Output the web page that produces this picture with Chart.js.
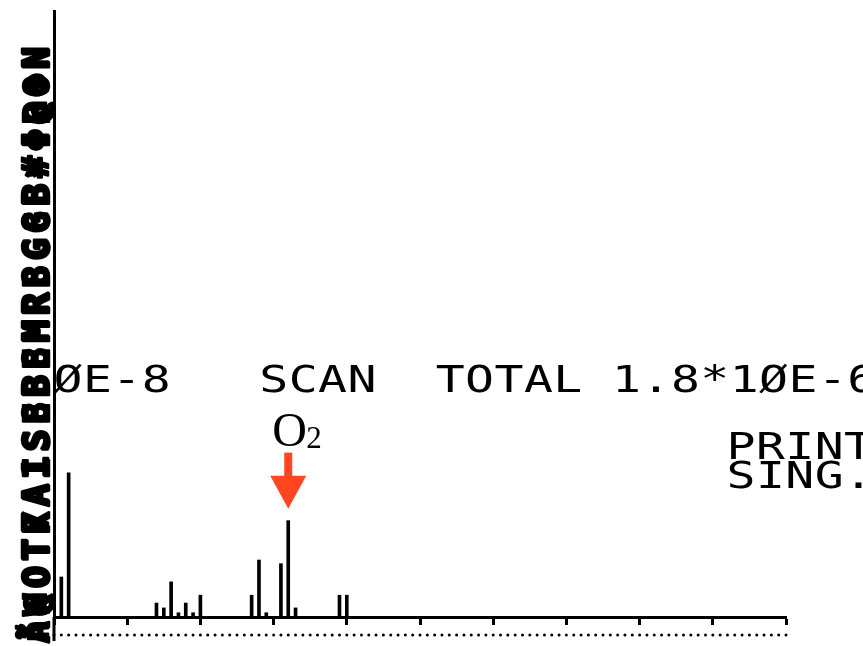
<!DOCTYPE html>
<html>
<head>
<meta charset="utf-8">
<script src="https://cdn.jsdelivr.net/npm/chart.js@4/dist/chart.umd.min.js"></script>
<style>
  html, body { margin: 0; padding: 0; background: #fff; }
  #wrap { width: 863px; height: 646px; position: relative; }
</style>
</head>
<body>
<div id="wrap"><canvas id="grafico"></canvas></div>
<script>
// mass numbers (amu) and peak heights (% of full scale)
const massas = [1, 2, 14, 15, 16, 17, 18, 19, 20, 27, 28, 29, 31, 32, 33, 39, 40];
const intensidades = [6.6, 23.8, 2.3, 1.5, 5.8, 0.7, 2.3, 0.7, 3.6, 3.6, 9.4, 0.7, 8.8, 15.9, 1.5, 3.6, 3.6];
const massaMin = 0;
const massaMax = 100;
const passoTick = 10;
const escalaMax = 100;

const linhaTopo = 'ØE-8   SCAN  TOTAL 1.8*1ØE-6';
const linhasStatus = ['PRINT', 'SING.'];
const rotuloPico = { massa: 32, texto: 'O', sub: '2' };
const faixaEsquerdaA = 'ÃWOTKAISEBEMRBGGB*ΦBΘN';
const faixaEsquerdaB = 'ñ@OT7A1S8B8MR8G8B#Φ@⊕N';

document.addEventListener('DOMContentLoaded', function() {
    const ctx = document.getElementById('grafico').getContext('2d');

    // monospaced printer text, one glyph per column
    function textoMatricial(c, texto, esquerda, base, passo) {
        for (let i = 0; i < texto.length; i++) {
            c.save();
            c.translate(esquerda + i * passo + 12, base);
            c.scale(1.3, 1);
            c.fillText(texto[i], 0, 0);
            c.restore();
        }
    }

    const extras = {
        id: 'extras',
        afterDatasetsDraw(chart) {
            const c = chart.ctx;
            const xs = chart.scales.x;
            const ys = chart.scales.y;
            const base = ys.getPixelForValue(0);
            const esq = xs.getPixelForValue(massaMin);
            c.save();

            // axis extension below baseline
            c.fillStyle = '#000';
            c.fillRect(esq - 1.5, base, 3, 24);

            // dotted row under the ticks, one dot per mass unit
            for (let m = massaMin; m <= massaMax; m++) {
                c.beginPath();
                c.arc(xs.getPixelForValue(m), base + 18, 1.5, 0, Math.PI * 2);
                c.fill();
            }

            // printed header and status text
            c.font = '37px "DejaVu Sans Mono"';
            c.textAlign = 'center';
            c.textBaseline = 'alphabetic';
            textoMatricial(c, linhaTopo, 56, 392, 29.4);
            textoMatricial(c, linhasStatus[0], 729, 459, 29.4);
            textoMatricial(c, linhasStatus[1], 729, 488, 29.4);

            // overprinted left strip
            c.save();
            c.translate(49, 643);
            c.rotate(-Math.PI / 2);
            c.font = 'bold 36px "DejaVu Sans Mono"';
            c.textAlign = 'left';
            c.strokeStyle = '#000';
            c.lineWidth = 2.5;
            c.lineJoin = 'round';
            const passo = 601 / faixaEsquerdaA.length;
            for (let i = 0; i < faixaEsquerdaA.length; i++) {
                c.fillText(faixaEsquerdaA[i], i * passo, 0);
                c.strokeText(faixaEsquerdaA[i], i * passo, 0);
                c.fillText(faixaEsquerdaB[i], i * passo + 1, -1);
                c.strokeText(faixaEsquerdaB[i], i * passo + 1, -1);
            }
            c.restore();

            // O2 arrow and label
            const px = xs.getPixelForValue(rotuloPico.massa);
            const idx = massas.indexOf(rotuloPico.massa);
            const topo = ys.getPixelForValue(intensidades[idx]);
            const ponta = topo - 12;
            c.fillStyle = '#ff4620';
            c.fillRect(px - 4, ponta - 56, 8, 26);
            c.beginPath();
            c.moveTo(px - 18, ponta - 33);
            c.lineTo(px + 18, ponta - 33);
            c.lineTo(px, ponta);
            c.closePath();
            c.fill();

            c.fillStyle = '#000';
            c.font = '48px "Liberation Serif"';
            c.textAlign = 'left';
            c.fillText(rotuloPico.texto, px - 16, ponta - 63);
            c.font = '31px "Liberation Serif"';
            c.fillText(rotuloPico.sub, px + 18, ponta - 61);

            c.restore();
        }
    };

    new Chart(ctx, {
        type: 'bar',
        data: {
            datasets: [{
                data: massas.map((m, i) => ({ x: m, y: intensidades[i] })),
                backgroundColor: '#000',
                barThickness: 3
            }]
        },
        options: {
            responsive: true,
            maintainAspectRatio: false,
            animation: false,
            devicePixelRatio: 1,
            layout: { padding: { left: 54, top: 11, right: 77, bottom: 21 } },
            plugins: { legend: { display: false }, tooltip: { enabled: false } },
            scales: {
                x: {
                    type: 'linear',
                    min: massaMin,
                    max: massaMax,
                    offset: false,
                    afterFit: s => { s.height = 8; },
                    ticks: { display: false, stepSize: passoTick },
                    grid: { offset: false, drawOnChartArea: false, drawTicks: true, tickLength: 8, tickWidth: 3, tickColor: '#000' },
                    border: { display: true, width: 3, color: '#000' }
                },
                y: {
                    min: 0,
                    max: escalaMax,
                    afterFit: s => { s.width = 0; },
                    ticks: { display: false },
                    grid: { drawOnChartArea: false, drawTicks: false },
                    border: { display: true, width: 3, color: '#000' }
                }
            }
        },
        plugins: [extras]
    });
});
</script>
</body>
</html>
